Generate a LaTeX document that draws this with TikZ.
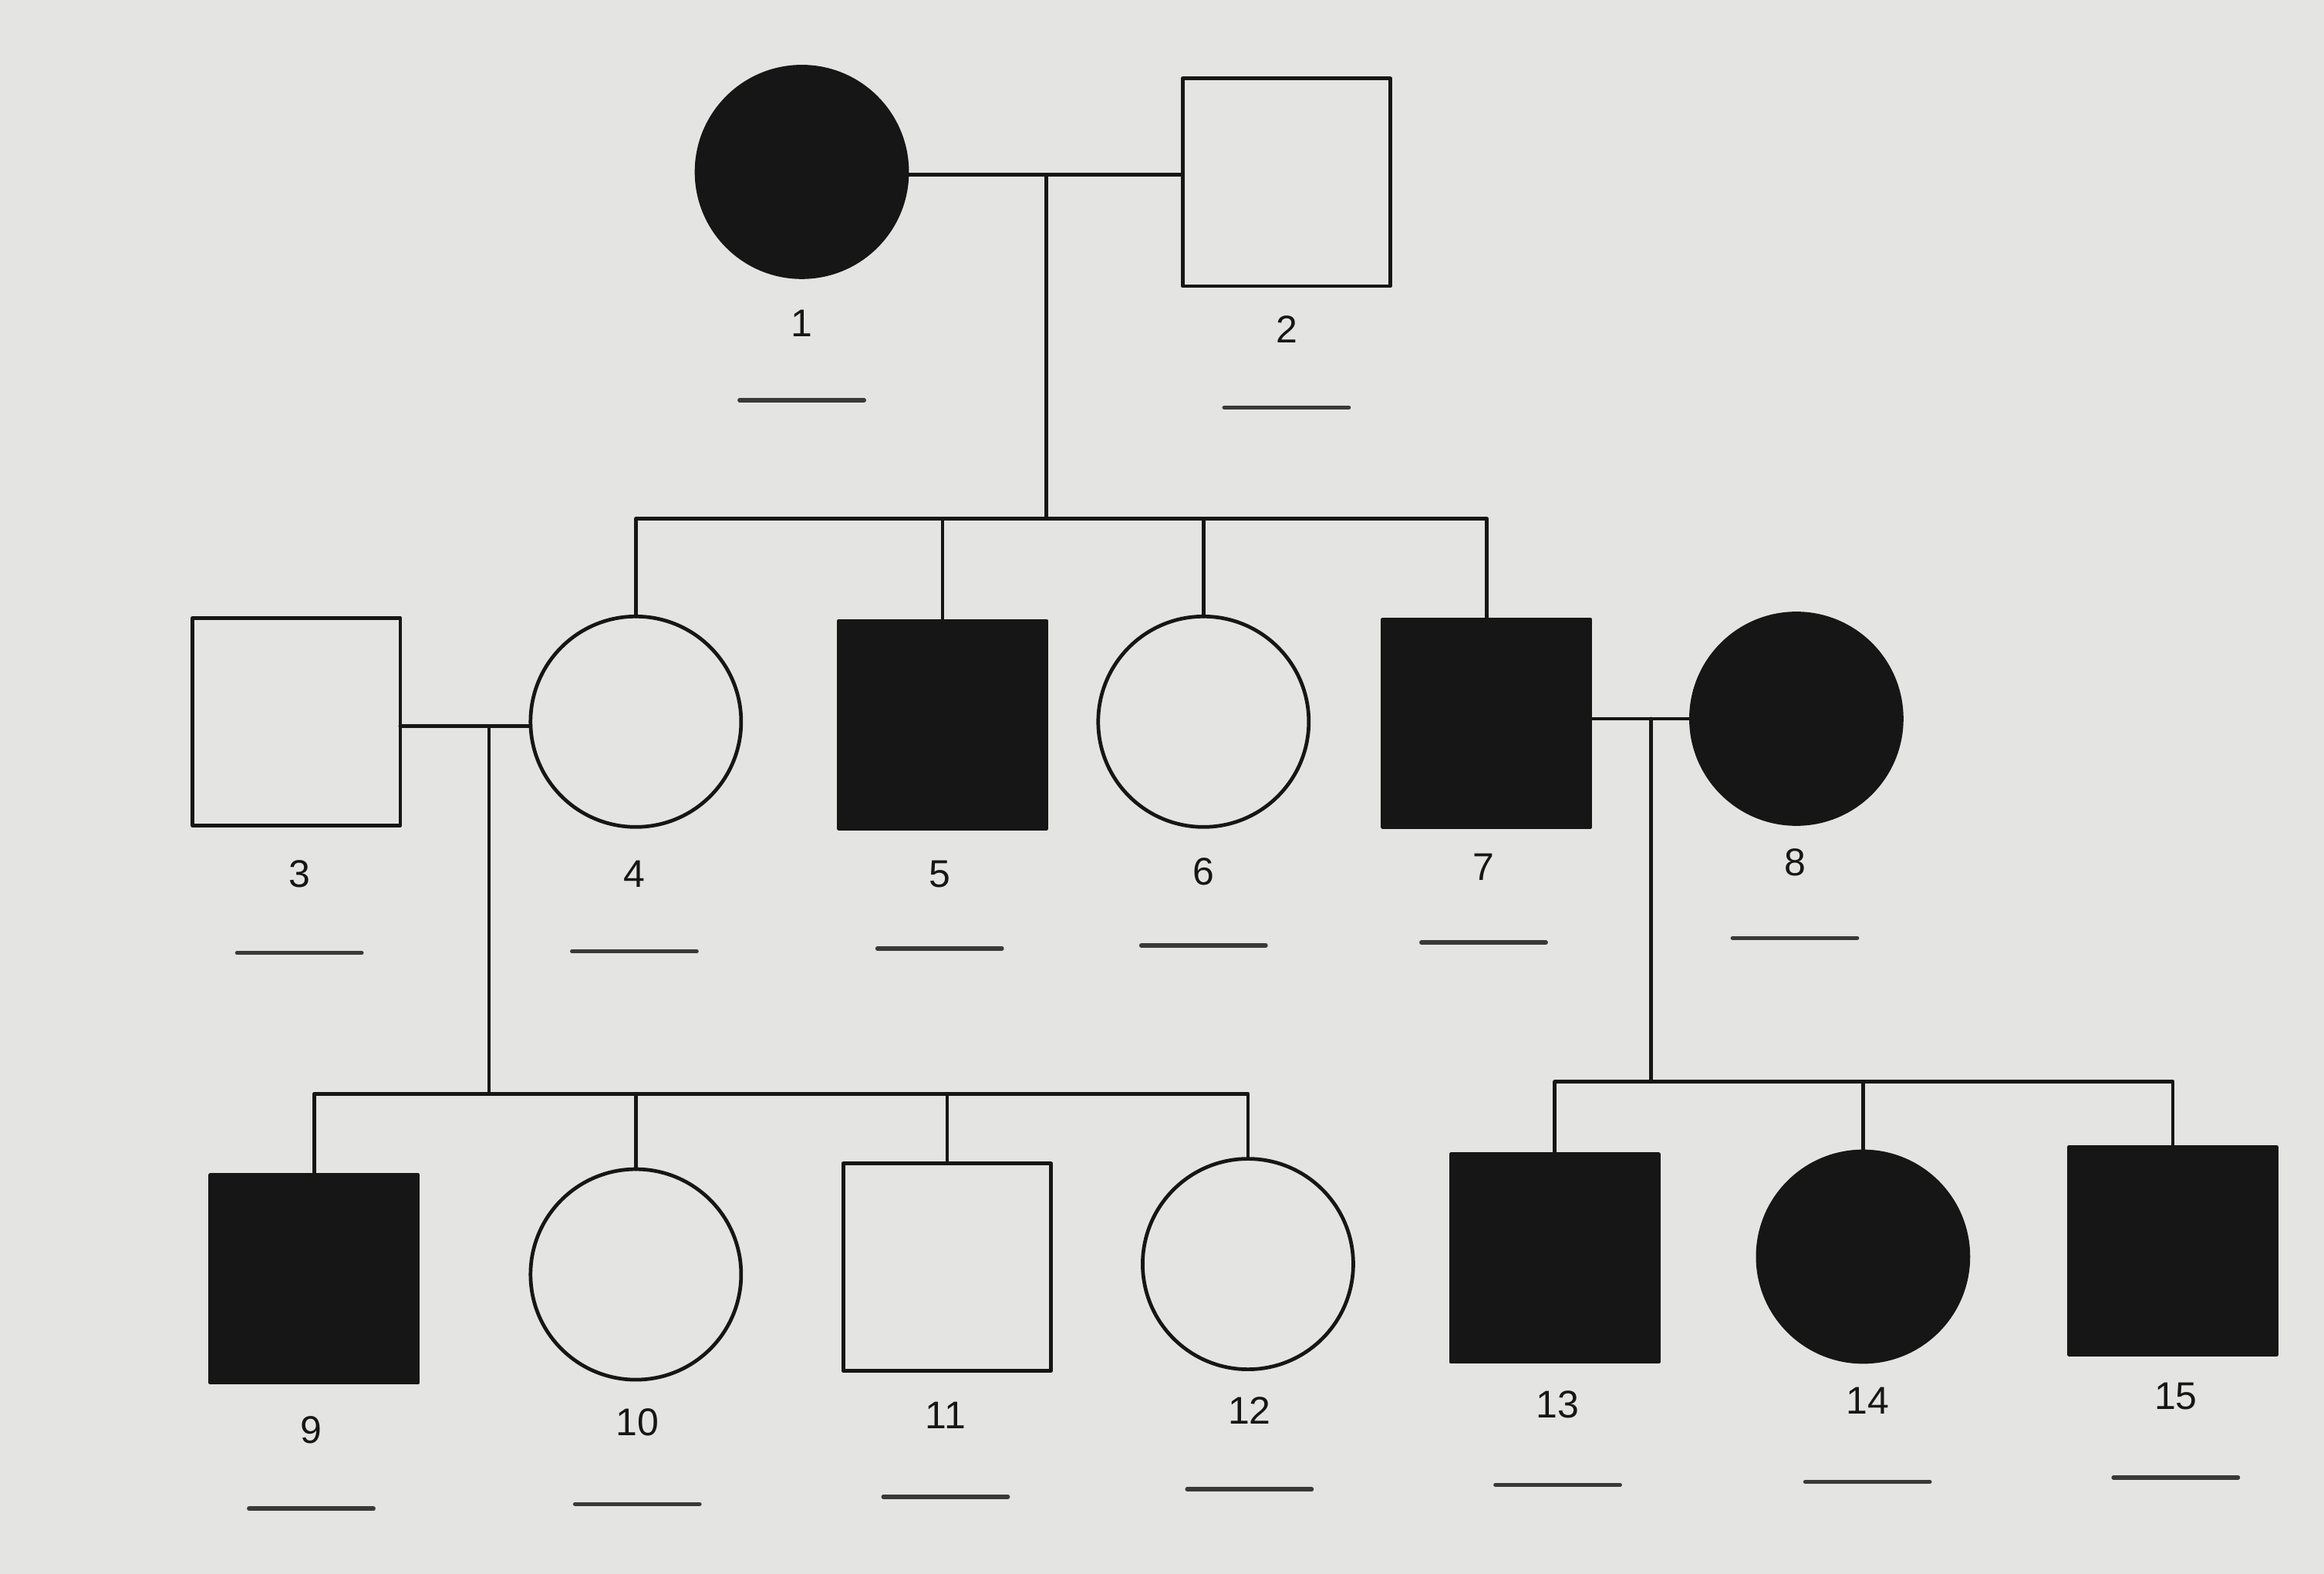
\documentclass[tikz,border=0pt]{standalone}
\usepackage{fontspec}
\setmainfont{Liberation Sans}
\usetikzlibrary{positioning}
\definecolor{paper}{HTML}{E4E4E2}
\definecolor{ink}{HTML}{161616}
\tikzset{
    every picture/.style={line cap=round,line join=round},
    male/.style={draw=ink,rectangle,fill=paper,line width=0.7pt,
      minimum size=1.4cm,inner sep=0pt,outer sep=0pt},
    female/.style={draw=ink,circle,fill=paper,line width=0.7pt,
      minimum size=1.42cm,inner sep=0pt,outer sep=0pt},
    affected/.style={fill=ink},
    kinline/.style={draw=ink,line width=0.7pt},
    idlabel/.style={font=\fontsize{7.4}{8.5}\selectfont,text=ink,inner sep=0pt},
    blankline/.style={draw=ink!85,line width=0.8pt}
}

\begin{document}
\begin{tikzpicture}[x=0.01cm,y=-0.01cm]
  \fill[paper] (0,0) rectangle (1568,1062);
  \useasboundingbox (0,0) rectangle (1568,1062);

  % generation I
  \node[female,affected] (n1) at (541,116) {};
  \node[male] (n2) at (868,123) {};

  % generation II
  \node[male] (n3) at (200,487) {};
  \node[female] (n4) at (429,487) {};
  \node[male,affected] (n5) at (636,489) {};
  \node[female] (n6) at (812,487) {};
  \node[male,affected] (n7) at (1003,488) {};
  \node[female,affected] (n8) at (1212,485) {};

  % generation III
  \node[male,affected] (n9) at (212,863) {};
  \node[female] (n10) at (429,860) {};
  \node[male] (n11) at (639,855) {};
  \node[female] (n12) at (842,853) {};
  \node[male,affected] (n13) at (1049,849) {};
  \node[female,affected] (n14) at (1257,848) {};
  \node[male,affected] (n15) at (1466,844) {};

  % matings and sibships
  \coordinate (m12) at (706,118);
  \coordinate (s12) at (706,350);
  \draw[kinline] (n1.east |- m12) -- (n2.west |- m12);
  \draw[kinline] (m12) -- (s12);
  \draw[kinline] (n4.north) |- (s12) -| (n7.north);
  \draw[kinline] (n5.north) -- (n5.north |- s12);
  \draw[kinline] (n6.north) -- (n6.north |- s12);

  \coordinate (m34) at (330,490);
  \coordinate (s34) at (330,738);
  \draw[kinline] (n3.east |- m34) -- (n4.west |- m34);
  \draw[kinline] (m34) -- (s34);
  \draw[kinline] (n9.north) |- (s34) -| (n12.north);
  \draw[kinline] (n10.north) -- (n10.north |- s34);
  \draw[kinline] (n11.north) -- (n11.north |- s34);

  \coordinate (m78) at (1114,485);
  \coordinate (s78) at (1114,730);
  \draw[kinline] (n7.east |- m78) -- (n8.west |- m78);
  \draw[kinline] (m78) -- (s78);
  \draw[kinline] (n13.north) |- (s78) -| (n15.north);
  \draw[kinline] (n14.north) -- (n14.north |- s78);

  % numbers and answer blanks
  \foreach \i/\x/\y/\b in {1/541/218/270, 2/868/222/275, 3/202/590/643,
      4/428/590/642, 5/634/590/640, 6/812/588/638, 7/1001/585/636,
      8/1211/582/633, 9/210/965/1018, 10/430/960/1015, 11/638/955/1010,
      12/843/952/1005, 13/1051/948/1002, 14/1260/945/1000, 15/1468/942/997}
  {
    \node[idlabel] (lab\i) at (\x,\y) {\i};
    \draw[blankline] ({\x-42},\b) -- ({\x+42},\b);
  }
\end{tikzpicture}
\end{document}
